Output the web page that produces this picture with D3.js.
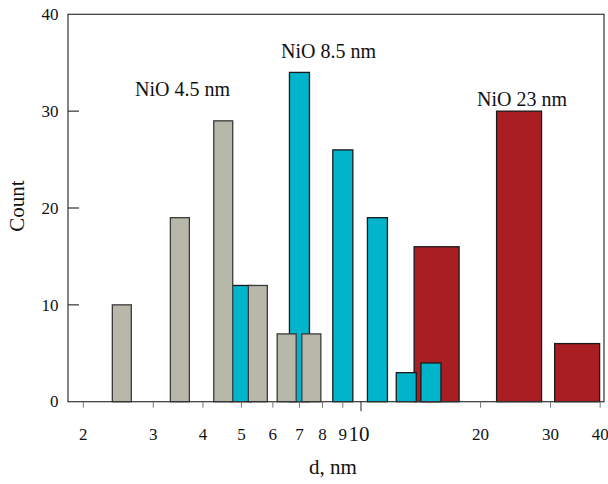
<html>
    <head>
        <script type="text/javascript" src="https://d3js.org/d3.v7.min.js"></script>
        <style>
            body { margin: 0; background: white; }
            text { font-family: "Liberation Serif", "DejaVu Serif", serif; fill: #111; }
        </style>
    </head>
    <body>
        <div id='my_chart'></div>
    </body>
    <script type="text/javascript">
        // bin centres (nm) and counts
        var grey_d   = [2.5, 3.5, 4.5, 5.5, 6.5, 7.5];
        var grey_n   = [10, 19, 29, 12, 7, 7];
        var blue_d   = [5, 7, 9, 11, 13, 15];
        var blue_n   = [12, 34, 26, 19, 3, 4];
        var red_d    = [15.5, 25, 35];
        var red_n    = [16, 30, 6];

        var seriesNames = ["NiO 4.5 nm", "NiO 8.5 nm", "NiO 23 nm"];
        var xTicks = [2, 3, 4, 5, 6, 7, 8, 9, 10, 20, 30, 40];
        var yTicks = [0, 10, 20, 30, 40];

        var W = 608, H = 484;
        var margin = {top: 14.3, right: 4, bottom: 82.3, left: 68};

        var svg = d3.select("#my_chart").append("svg")
            .attr("width", W)
            .attr("height", H);

        //Scales
        var xScale = d3.scaleLog()
                    .domain([1.83, 40.9])
                    .range([margin.left, W - margin.right]);
        var yScale = d3.scaleLinear()
                    .domain([0, 40])
                    .range([H - margin.bottom, margin.top]);

        function makeBars(ds, ns) {
            return ds.map(function(d, i) { return {d: d, n: ns[i]}; });
        }

        // draw order: red at the back, grey in front
        var groups = [
            {bars: makeBars(red_d, red_n),   hw: 0.0566, fill: "#a81e22", stroke: "#1a1a1a"},
            {bars: makeBars(blue_d, blue_n), hw: 0.0252, fill: "#00b4cc", stroke: "#1a1a1a"},
            {bars: makeBars(grey_d, grey_n), hw: 0.0239, fill: "#b8b8aa", stroke: "#3a3a3a"}
        ];

        groups.forEach(function(g) {
            var f = Math.pow(10, g.hw);
            svg.append("g").selectAll("rect")
                .data(g.bars)
                .enter()
                .append("rect")
                .attr("x", function(b) { return xScale(b.d / f); })
                .attr("y", function(b) { return yScale(b.n); })
                .attr("width", function(b) { return xScale(b.d * f) - xScale(b.d / f); })
                .attr("height", function(b) { return yScale(0) - yScale(b.n); })
                .attr("fill", g.fill)
                .attr("stroke", g.stroke)
                .attr("stroke-width", 1.3);
        });

        // frame
        svg.append("rect")
            .attr("x", xScale.range()[0])
            .attr("y", yScale(40))
            .attr("width", xScale.range()[1] - xScale.range()[0])
            .attr("height", yScale(0) - yScale(40))
            .attr("fill", "none")
            .attr("stroke", "#333")
            .attr("stroke-width", 1.2);

        // x axis: outward ticks, the 10 tick longer
        var xAxis = svg.append("g");
        xAxis.selectAll("line")
            .data(xTicks)
            .enter()
            .append("line")
            .attr("x1", function(d) { return xScale(d); })
            .attr("x2", function(d) { return xScale(d); })
            .attr("y1", yScale(0))
            .attr("y2", function(d) { return yScale(0) + (d == 10 ? 9.5 : 6); })
            .attr("stroke", function(d) { return d == 10 ? "#222" : "#777"; })
            .attr("stroke-width", 1);
        xAxis.selectAll("text")
            .data(xTicks)
            .enter()
            .append("text")
            .attr("x", function(d) { return xScale(d) - (d == 10 ? 2 : 0); })
            .attr("y", function(d) { return d == 10 ? 441 : 440; })
            .attr("text-anchor", "middle")
            .attr("font-size", function(d) { return d == 10 ? 21 : 17; })
            .text(function(d) { return d; });

        // y axis: inward ticks
        var yAxis = svg.append("g");
        yAxis.selectAll("line")
            .data(yTicks.slice(1, -1))
            .enter()
            .append("line")
            .attr("x1", xScale.range()[0])
            .attr("x2", xScale.range()[0] + 11)
            .attr("y1", function(d) { return yScale(d); })
            .attr("y2", function(d) { return yScale(d); })
            .attr("stroke", "#333")
            .attr("stroke-width", 1.2);
        yAxis.selectAll("text")
            .data(yTicks)
            .enter()
            .append("text")
            .attr("x", 58.5)
            .attr("y", function(d) { return yScale(d); })
            .attr("dy", "0.34em")
            .attr("text-anchor", "end")
            .attr("font-size", 17)
            .text(function(d) { return d; });

        // axis titles
        svg.append("text")
            .attr("x", 333)
            .attr("y", 474)
            .attr("text-anchor", "middle")
            .attr("font-size", 21)
            .text("d, nm");
        svg.append("text")
            .attr("transform", "translate(24,206) rotate(-90)")
            .attr("text-anchor", "middle")
            .attr("font-size", 21)
            .text("Count");

        // series labels
        var labelPos = [[135, 96], [281, 58], [477, 106]];
        svg.selectAll(".lbl")
            .data(seriesNames)
            .enter()
            .append("text")
            .attr("class", "lbl")
            .attr("x", function(d, i) { return labelPos[i][0]; })
            .attr("y", function(d, i) { return labelPos[i][1]; })
            .attr("font-size", 20)
            .text(function(d) { return d; });
    </script>
</html>
